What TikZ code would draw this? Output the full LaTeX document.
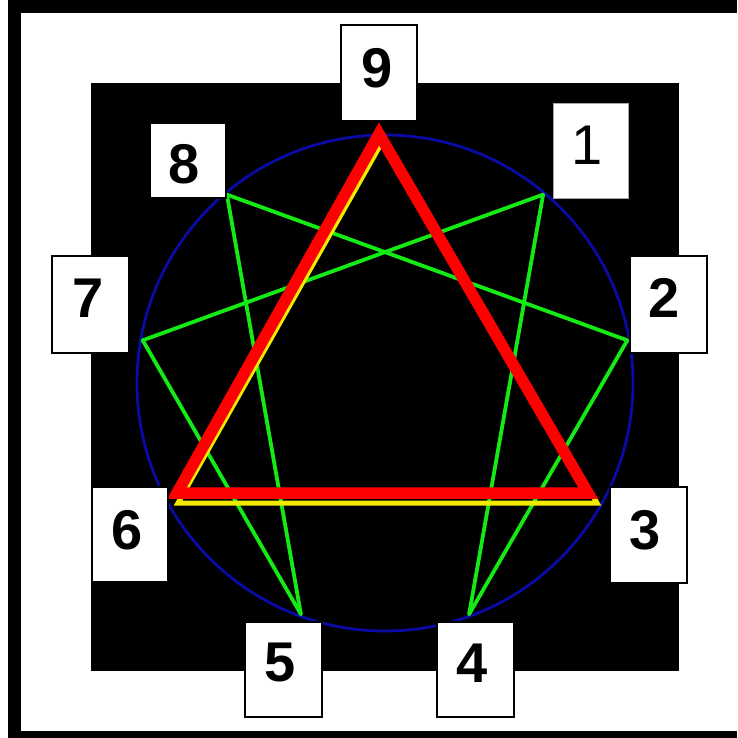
\documentclass[tikz,border=0pt]{standalone}
\usepackage{fontspec}
\setmainfont{Liberation Sans}
\begin{document}
\begin{tikzpicture}[x=1pt,y=-1pt,
  numbox/.style={draw=black,line width=1.3pt,fill=white},
  numtxt/.style={inner sep=0pt,font=\fontsize{56}{60}\selectfont\bfseries},
  hexline/.style={draw={rgb,255:red,20;green,235;blue,20},line width=3.8pt,line cap=round},
]
\useasboundingbox (0,0) rectangle (737,738);
% outer frame bars
\fill[black] (8,0) rectangle (21,738);
\fill[black] (8,0) rectangle (737,13);
\fill[black] (8,731) rectangle (737,738);
% black square
\fill[black] (91,83) rectangle (679,671);
% circle
\coordinate (c) at (385,383);
\draw[draw={rgb,255:red,10;green,10;blue,165},line width=2.8pt] (c) circle (248pt);
% enneagram points
\coordinate (p1) at (543.1,194.6);
\coordinate (p2) at (627.3,340.3);
\coordinate (p4) at (469.1,614.2);
\coordinate (p5) at (300.9,614.2);
\coordinate (p7) at (142.7,340.3);
\coordinate (p8) at (226.9,194.6);
% hexad
\draw[hexline] (p1) -- (p4);
\draw[hexline] (p4) -- (p2);
\draw[hexline] (p2) -- (p8);
\draw[hexline] (p8) -- (p5);
\draw[hexline] (p5) -- (p7);
\draw[hexline] (p7) -- (p1);
% yellow line 9-6-3
\coordinate (y9) at (385,137);
\coordinate (y6) at (178,503);
\coordinate (y3) at (597,503);
\draw[draw={rgb,255:red,240;green,235;blue,0},line width=5pt,line join=miter] (y9) -- (y6) -- (y3) -- ++(-4,-7);
% red triangle
\coordinate (r9) at (379,134);
\coordinate (r6) at (177,493);
\coordinate (r3) at (588,493);
\draw[draw=red,line width=11.5pt,line join=miter] (r9) -- (r6) -- (r3) -- cycle;
% boxes
\node[numbox,minimum width=76pt,minimum height=96pt,inner sep=0pt] (b9) at (379,73) {};
\node[draw=gray!70,line width=1pt,fill=white,minimum width=75pt,minimum height=94pt,inner sep=0pt] (b1) at (590.5,151) {};
\node[numbox,minimum width=76pt,minimum height=75pt,inner sep=0pt] (b8) at (188,160.5) {};
\node[numbox,minimum width=77pt,minimum height=97pt,inner sep=0pt] (b7) at (90.5,304.5) {};
\node[numbox,minimum width=77pt,minimum height=97pt,inner sep=0pt] (b2) at (668.5,304.5) {};
\node[numbox,minimum width=76pt,minimum height=95pt,inner sep=0pt] (b6) at (130,534.5) {};
\node[numbox,minimum width=77pt,minimum height=96pt,inner sep=0pt] (b3) at (648.5,535) {};
\node[numbox,minimum width=77pt,minimum height=95pt,inner sep=0pt] (b5) at (283.5,669.5) {};
\node[numbox,minimum width=77pt,minimum height=95pt,inner sep=0pt] (b4) at (475.5,669.5) {};
% numbers
\node[numtxt] (t9) at (377,68) {9};
\node[inner sep=0pt,font=\fontsize{56}{60}\selectfont] (t1) at (587,145) {1};
\node[numtxt] (t8) at (184,164) {8};
\node[numtxt] (t7) at (88,298) {7};
\node[numtxt] (t2) at (664,298) {2};
\node[numtxt] (t6) at (127,530) {6};
\node[numtxt] (t3) at (645,530) {3};
\node[numtxt] (t5) at (280,663) {5};
\node[numtxt] (t4) at (472,663) {4};
\end{tikzpicture}
\end{document}
